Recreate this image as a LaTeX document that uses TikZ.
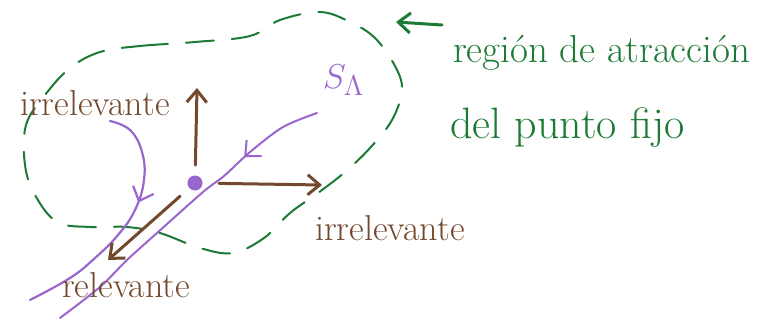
\documentclass[tikz,border=0pt]{standalone}
\usepackage{amsmath,amssymb}
\usepackage{tikz}
\usetikzlibrary{arrows.meta,decorations.markings}
\definecolor{VerdeRegion}{RGB}{28,122,52}
\definecolor{CafeFlecha}{RGB}{115,72,45}
\definecolor{MoradoFlujo}{RGB}{152,102,204}

\begin{document}
\begin{tikzpicture}[x=0.5pt,y=-0.5pt,>={Straight Barb[length=6pt,width=10pt]},
  flecha/.style={->,line width=1.5pt,CafeFlecha,line cap=round},
  cafe/.style={text=CafeFlecha,font=\fontsize{18}{20}\selectfont},
  verde/.style={text=VerdeRegion,font=\fontsize{19.5}{22}\selectfont},
  flujo/.style={MoradoFlujo,line width=1pt,line cap=round,postaction={decorate},
    decoration={markings,mark=at position #1 with {\arrow{Straight Barb[length=6pt,width=11pt]}}}}]
  \useasboundingbox (0,0) rectangle (770,322);
  % region de atraccion
  \draw[VerdeRegion,line width=1pt,dash pattern=on 14pt off 9pt,line cap=round]
    plot[smooth cycle,tension=0.6] coordinates {(100,52) (140,46) (195,42) (250,36) (280,20)
    (320,12) (350,22) (375,38) (395,66) (402,90) (392,120) (370,148) (345,172) (318,193)
    (290,213) (264,238) (233,253) (200,248) (160,233) (127,227) (90,227) (57,222) (35,195)
    (25,165) (26,125) (45,95) (70,68)};
  % variedades
  \draw[flujo=0.26] plot[smooth,tension=0.5] coordinates {(317,113) (283,127) (250,152)
    (224,176) (203,192) (157,233) (127,260) (100,287) (60,318)};
  \draw[flujo=0.4,line width=1.1pt] plot[smooth,tension=0.7] coordinates {(110,121) (130,130)
    (142,152) (144,180) (135,210) (118,235) (95,258) (70,278) (30,300)};
  \node[fill=MoradoFlujo,circle,inner sep=0pt,minimum size=7.5pt] (pf) at (195,183) {};
  % direcciones
  \coordinate (arribaFin) at (197,88);
  \coordinate (derechaFin) at (322,185);
  \coordinate (relFin) at (108,260);
  \draw[flecha,shorten <=5pt] (pf) -- (arribaFin);
  \draw[flecha,shorten <=8pt] (pf) -- (derechaFin);
  \draw[flecha,shorten <=6pt] (pf) -- (relFin);
  % textos
  \node[cafe,anchor=base west] (irrA) at (13,115) {irrelevante};
  \node[cafe,anchor=base west] (irrB) at (308,240) {irrelevante};
  \node[cafe,anchor=base west] (rel) at (55,297) {relevante};
  \node[text=MoradoFlujo,anchor=base west,font=\fontsize{19}{22}\selectfont] (SL) at (316,88) {$S_\Lambda$};
  \node[verde,anchor=base west] (reg) at (446,62) {región de atracción};
  \node[verde,anchor=base west,font=\fontsize{22}{24}\selectfont] (pto) at (443,138) {del punto fijo};
  \coordinate (regIni) at (442,25);
  \coordinate (regFin) at (396,22);
  \draw[->,VerdeRegion,line width=1.5pt,line cap=round] (regIni) -- (regFin);
\end{tikzpicture}
\end{document}
